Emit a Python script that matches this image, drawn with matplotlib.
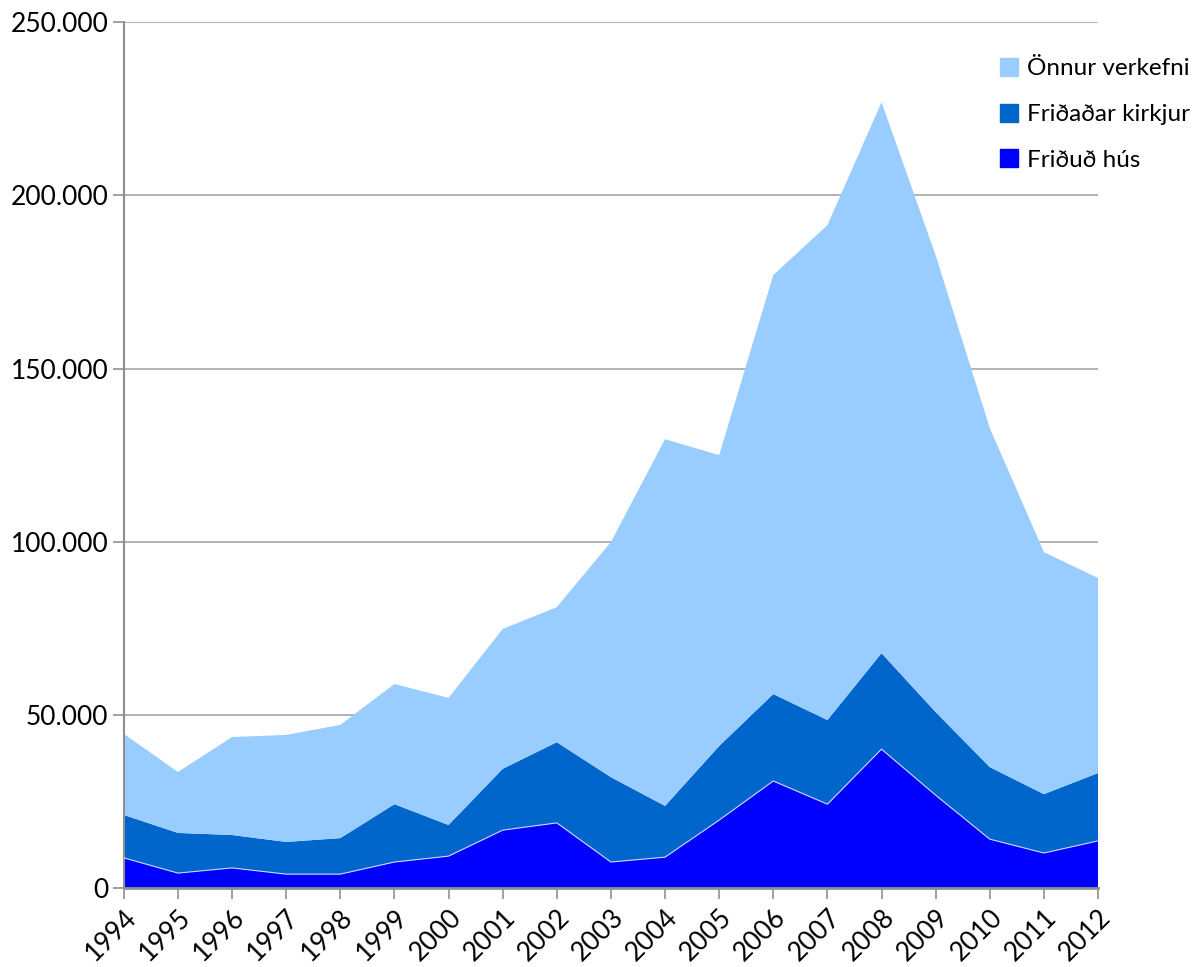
import matplotlib
matplotlib.use("Agg")
import matplotlib.pyplot as plt
import numpy as np
from matplotlib.patches import Patch

plt.rcParams['font.family'] = ['Lato', 'DejaVu Sans']

years = list(range(1994, 2013))
fridud_hus = [8.7, 4.3, 5.8, 4.0, 4.0, 7.5, 9.2, 16.7, 18.8, 7.5, 8.9, 19.6, 30.9, 24.2, 40.1, 26.8, 14.1, 10.1, 13.6]
kirkjur_cum = [21.1, 15.9, 15.3, 13.3, 14.4, 24.2, 18.2, 34.4, 42.1, 32.0, 23.7, 41.0, 56.0, 48.5, 67.8, 50.8, 34.9, 27.1, 33.2]
total_cum = [44.5, 33.5, 43.6, 44.2, 47.1, 58.9, 54.9, 74.8, 81.1, 99.9, 129.6, 125.0, 177.0, 191.4, 226.9, 182.7, 132.8, 97.0, 89.5]

fridud_hus = np.array(fridud_hus) * 1000
fridadar_kirkjur = np.array(kirkjur_cum) * 1000 - fridud_hus
onnur_verkefni = np.array(total_cum) * 1000 - np.array(kirkjur_cum) * 1000

labels = ['Friðuð hús', 'Friðaðar kirkjur', 'Önnur verkefni']
colors = ['#0000FF', '#0066CC', '#99CCFF']

fig = plt.figure(figsize=(12.02, 9.67), dpi=100)
ax = fig.add_axes([0.103, 0.0817, 0.8105, 0.8953])

x = np.arange(len(years))
ax.stackplot(x, fridud_hus, fridadar_kirkjur, onnur_verkefni, colors=colors, zorder=2,
             edgecolor='none', linewidth=0)
ax.plot(x, fridud_hus, color='#c8d8ff', lw=0.8, zorder=3)

ax.set_xlim(0, len(years) - 1)
ax.set_ylim(0, 250000)
ax.set_yticks(np.arange(0, 250001, 50000))
ax.set_yticklabels([f"{int(v):,}".replace(",", ".") for v in np.arange(0, 250001, 50000)])
ax.set_xticks(x)
ax.set_xticklabels([str(y) for y in years], rotation=45, ha='right', va='top', rotation_mode='anchor')

ax.yaxis.grid(True, color='#a6a6a6', lw=1.2, zorder=1)
ax.set_axisbelow(True)
for s in ['top', 'right']:
    ax.spines[s].set_visible(False)
ax.spines['left'].set_color('#909090')
ax.spines['left'].set_linewidth(1.5)
ax.spines['bottom'].set_color('#909090')
ax.spines['bottom'].set_linewidth(2)
ax.spines['bottom'].set_zorder(4)
ax.tick_params(axis='both', colors='#909090', labelcolor='black', labelsize=19, width=1.2, length=8)
ax.tick_params(axis='y', pad=3)
ax.tick_params(axis='x', pad=4)

handles = [Patch(color=colors[2]), Patch(color=colors[1]), Patch(color=colors[0])]
leg = fig.legend(handles, labels[::-1], loc='upper left', bbox_to_anchor=(0.828, 0.945),
                 frameon=False, fontsize=17.5, handlelength=0.75, handleheight=0.75,
                 handletextpad=0.35, labelspacing=1.0, borderaxespad=0, borderpad=0.2)

fig.savefig('out.png', dpi=100, facecolor='white')
